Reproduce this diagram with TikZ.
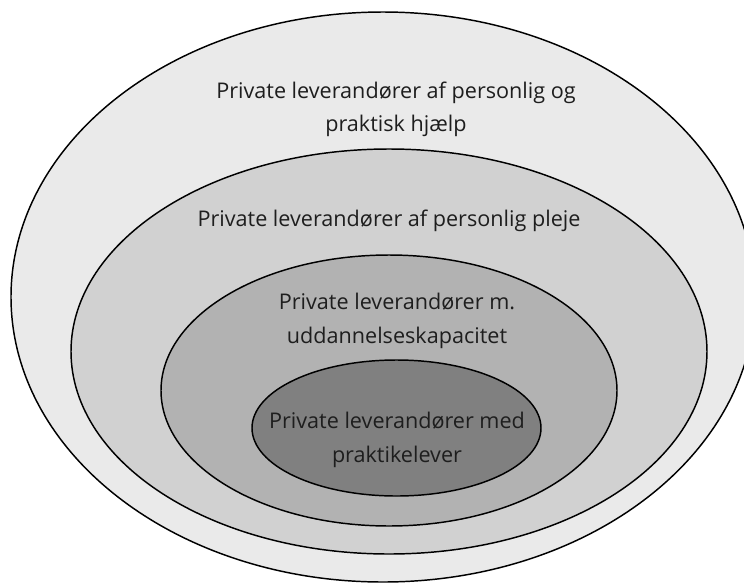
\documentclass[tikz,border=0pt]{standalone}
\usepackage{fontspec}
\setmainfont{Open Sans}
\usepackage{tikz}
\usetikzlibrary{
  positioning,
  shapes.geometric
}
\definecolor{ringone}{RGB}{234,234,234}
\definecolor{ringtwo}{RGB}{209,209,209}
\definecolor{ringthree}{RGB}{178,178,178}
\definecolor{ringfour}{RGB}{128,128,128}
\definecolor{labeltext}{RGB}{30,30,30}
\tikzset{
  ringnode/.style={
    draw=black, ellipse, line width=1.1pt, inner sep=0pt
  },
  ringlabel/.style={
    font=\fontsize{16.2}{25}\selectfont, text=labeltext, align=center, inner sep=0pt
  }
}

\begin{document}
\begin{tikzpicture}[x=0.75pt, y=-0.75pt]
    \useasboundingbox (0,0) rectangle (744,583);

    % Nested rings, outer to inner
    \node[ringnode, fill=ringone, minimum width=558pt, minimum height=427.5pt] (outer) at (383,297) {};
    \node[ringnode, fill=ringtwo, minimum width=477pt, minimum height=303.75pt] (pleje) at (389,351.5) {};
    \node[ringnode, fill=ringthree, minimum width=342pt, minimum height=203.25pt] (uddan) at (389,390.5) {};
    \node[ringnode, fill=ringfour, minimum width=216.75pt, minimum height=102pt] (elever) at (396.5,428) {};

    % Labels
    \node[ringlabel] (outerlbl) at (396,109) {Private leverandører af personlig og\\praktisk hjælp};
    \node[ringlabel] (plejelbl) at (389,221) {Private leverandører af personlig pleje};
    \node[ringlabel] (uddanlbl) at (397,321) {Private leverandører m.\\uddannelseskapacitet};
    \node[ringlabel] (eleverlbl) at (397,440) {Private leverandører med\\praktikelever};

\end{tikzpicture}
\end{document}
